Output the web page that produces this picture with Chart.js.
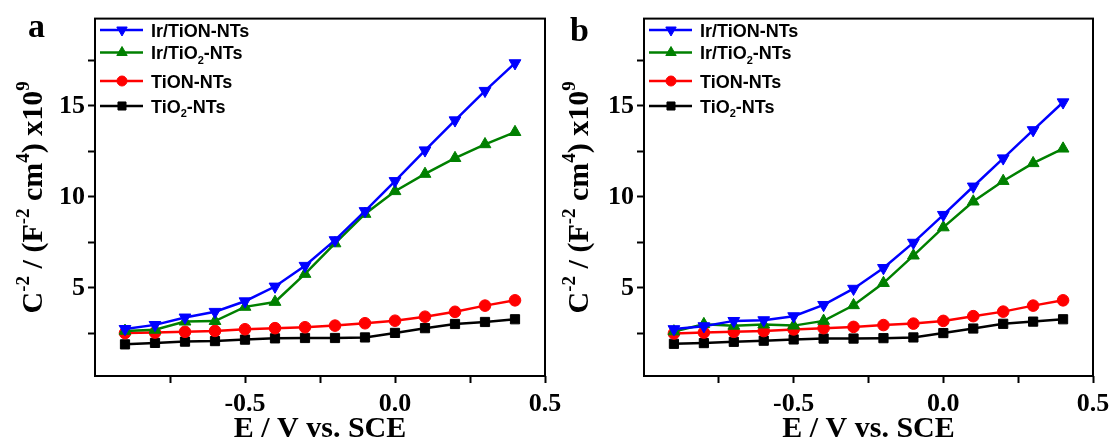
<!DOCTYPE html>
<html>
<head>
<meta charset="utf-8">
<script src="https://cdn.jsdelivr.net/npm/chart.js@4"></script>
<style>
  body { margin: 0; background: #fff; width: 1118px; height: 441px; overflow: hidden; position: relative; }
  #wrapA { position: absolute; left: 0; top: 0; width: 620px; height: 441px; }
  #wrapB { position: absolute; left: 559px; top: 0; width: 559px; height: 441px; }
</style>
</head>
<body>
<div id="wrapA"><canvas id="chartA"></canvas></div>
<div id="wrapB"><canvas id="chartB"></canvas></div>
<script>
// potentials (V vs. SCE)
const potentials = [-0.9, -0.8, -0.7, -0.6, -0.5, -0.4, -0.3, -0.2, -0.1, 0.0, 0.1, 0.2, 0.3, 0.4];

const seriesLabels = ["Ir/TiON-NTs", "Ir/TiO₂-NTs", "TiON-NTs", "TiO₂-NTs"];

// panel a
const irTiONa = [2.74, 2.96, 3.37, 3.68, 4.26, 5.07, 6.21, 7.62, 9.22, 10.87, 12.56, 14.21, 15.83, 17.35];
const irTiO2a = [2.63, 2.69, 3.14, 3.17, 3.95, 4.22, 5.76, 7.44, 9.06, 10.31, 11.26, 12.13, 12.89, 13.56];
const tiONa = [2.51, 2.54, 2.58, 2.63, 2.72, 2.78, 2.83, 2.92, 3.05, 3.19, 3.41, 3.68, 4.02, 4.31];
const tiO2a = [1.89, 1.97, 2.04, 2.07, 2.15, 2.22, 2.24, 2.24, 2.27, 2.52, 2.78, 3.01, 3.12, 3.27];

// panel b
const irTiONb = [2.73, 2.89, 3.18, 3.22, 3.44, 4.06, 4.95, 6.09, 7.48, 9.01, 10.57, 12.12, 13.67, 15.2];
const irTiO2b = [2.6, 3.0, 2.91, 2.98, 2.92, 3.18, 4.04, 5.26, 6.77, 8.32, 9.74, 10.87, 11.85, 12.65];
const tiONb = [2.49, 2.54, 2.58, 2.62, 2.71, 2.78, 2.85, 2.95, 3.03, 3.18, 3.44, 3.69, 4.02, 4.31];
const tiO2b = [1.92, 1.96, 2.03, 2.09, 2.16, 2.21, 2.21, 2.23, 2.27, 2.51, 2.76, 3.02, 3.14, 3.27];

// axis ticks
const xTicks = [-0.75, -0.5, -0.25, 0, 0.25, 0.5];
const xLabels = [-0.5, 0, 0.5];
const yTicks = [2.5, 5, 7.5, 10, 12.5, 15, 17.5];
const yLabels = [5, 10, 15];

const colors = ["#0000ff", "#008000", "#ff0000", "#000000"];
const markers = [
  { style: "triangle", rot: 180, r: 6.8 },
  { style: "triangle", rot: 0, r: 6.8 },
  { style: "circle", rot: 0, r: 5.8 },
  { style: "rect", rot: 0, r: 6.5 },
];

const SERIF = "'Liberation Serif', 'Times New Roman', serif";
const SANS = "'Liberation Sans', Arial, sans-serif";

// draw text with sup/sub parts
function drawRich(ctx, parts, x, y, size, family, align) {
  const small = Math.round(size * 0.62);
  let total = 0;
  parts.forEach(p => {
    ctx.font = "bold " + (p[1] ? small : size) + "px " + family;
    total += ctx.measureText(p[0]).width;
  });
  let cx = align === "center" ? x - total / 2 : x;
  ctx.textAlign = "left";
  ctx.textBaseline = "alphabetic";
  parts.forEach(p => {
    ctx.font = "bold " + (p[1] ? small : size) + "px " + family;
    let dy = 0;
    if (p[1] === "sup") dy = -size * 0.42;
    if (p[1] === "sub") dy = size * 0.25;
    ctx.fillText(p[0], cx, y + dy);
    cx += ctx.measureText(p[0]).width;
  });
}

function labelParts(label) {
  const bits = label.split("₂");
  const parts = [];
  bits.forEach((b, i) => {
    if (i > 0) parts.push(["2", "sub"]);
    if (b) parts.push([b]);
  });
  return parts;
}

const yTitle = [["C"], ["-2", "sup"], [" / (F"], ["-2", "sup"], [" cm"], ["4", "sup"], [") x10"], ["9", "sup"]];

function makeChart(id, letter, series, frameLeft, rightPad, letterX, letterY, titleX) {
  const datasets = series.map((vals, i) => ({
    label: seriesLabels[i],
    data: potentials.map((p, j) => ({ x: p, y: vals[j] })),
    borderColor: colors[i],
    backgroundColor: colors[i],
    borderWidth: 2.5,
    pointStyle: markers[i].style,
    pointRotation: markers[i].rot,
    pointRadius: markers[i].r,
    pointBackgroundColor: colors[i],
    pointBorderColor: colors[i],
    pointBorderWidth: 1,
    tension: 0,
  }));

  const decor = {
    id: "decor",
    afterDraw(chart) {
      const ctx = chart.ctx;
      const a = chart.chartArea;
      ctx.save();
      ctx.strokeStyle = "#000";
      ctx.lineWidth = 2;
      ctx.strokeRect(a.left, a.top, a.right - a.left, a.bottom - a.top);

      ctx.fillStyle = "#000";
      ctx.font = "bold 34px " + SERIF;
      ctx.textAlign = "left";
      ctx.textBaseline = "alphabetic";
      ctx.fillText(letter, letterX, letterY);

      drawRich(ctx, [["E / V vs. SCE"]], (a.left + a.right) / 2, 437, 30, SERIF, "center");

      ctx.save();
      ctx.translate(titleX, (a.top + a.bottom) / 2);
      ctx.rotate(-Math.PI / 2);
      drawRich(ctx, yTitle, 0, 0, 30, SERIF, "center");
      ctx.restore();

      // legend
      const rows = [30, 52.5, 81, 106];
      rows.forEach((ry, i) => {
        ctx.strokeStyle = colors[i];
        ctx.fillStyle = colors[i];
        ctx.lineWidth = 2.5;
        ctx.beginPath();
        ctx.moveTo(a.left + 5, ry);
        ctx.lineTo(a.left + 48, ry);
        ctx.stroke();
        ctx.lineWidth = 1;
        Chart.helpers.drawPoint(ctx, {
          pointStyle: markers[i].style,
          rotation: markers[i].rot,
          radius: markers[i].r - 0.8,
          borderWidth: 1,
        }, a.left + 27, ry);
        ctx.fillStyle = "#000";
        drawRich(ctx, labelParts(seriesLabels[i]), a.left + 56, ry + 6.5, 18, SANS, "left");
      });
      ctx.restore();
    },
  };

  return new Chart(document.getElementById(id), {
    type: "line",
    data: { datasets: datasets },
    plugins: [decor],
    options: {
      responsive: true,
      maintainAspectRatio: false,
      animation: false,
      devicePixelRatio: 1,
      layout: { padding: { left: 0, top: 12, right: rightPad, bottom: 0 } },
      plugins: { legend: { display: false }, tooltip: { enabled: false } },
      scales: {
        x: {
          type: "linear",
          min: -1,
          max: 0.5,
          afterBuildTicks(s) { s.ticks = xTicks.map(v => ({ value: v })); },
          afterFit(s) { s.height = 65; },
          ticks: {
            autoSkip: false,
            maxRotation: 0,
            padding: 6,
            color: "#000",
            font: { family: SERIF, size: 26, weight: "bold" },
            callback: v => (xLabels.includes(v) ? v.toFixed(1) : ""),
          },
          grid: { drawOnChartArea: false, tickLength: 7, tickWidth: 2, tickColor: "#000" },
          border: { display: false },
        },
        y: {
          min: 0.15,
          max: 19.8,
          afterBuildTicks(s) { s.ticks = yTicks.map(v => ({ value: v })); },
          afterFit(s) { s.width = frameLeft; },
          ticks: {
            autoSkip: false,
            padding: 3,
            color: "#000",
            font: { family: SERIF, size: 26, weight: "bold" },
            callback: v => (yLabels.includes(v) ? String(v) : ""),
          },
          grid: { drawOnChartArea: false, tickLength: 7, tickWidth: 2, tickColor: "#000" },
          border: { display: false },
        },
      },
    },
  });
}

makeChart("chartA", "a", [irTiONa, irTiO2a, tiONa, tiO2a], 95, 75, 28, 37, 42);
makeChart("chartB", "b", [irTiONb, irTiO2b, tiONb, tiO2b], 85, 25, 11, 41, 29);
</script>
</body>
</html>
